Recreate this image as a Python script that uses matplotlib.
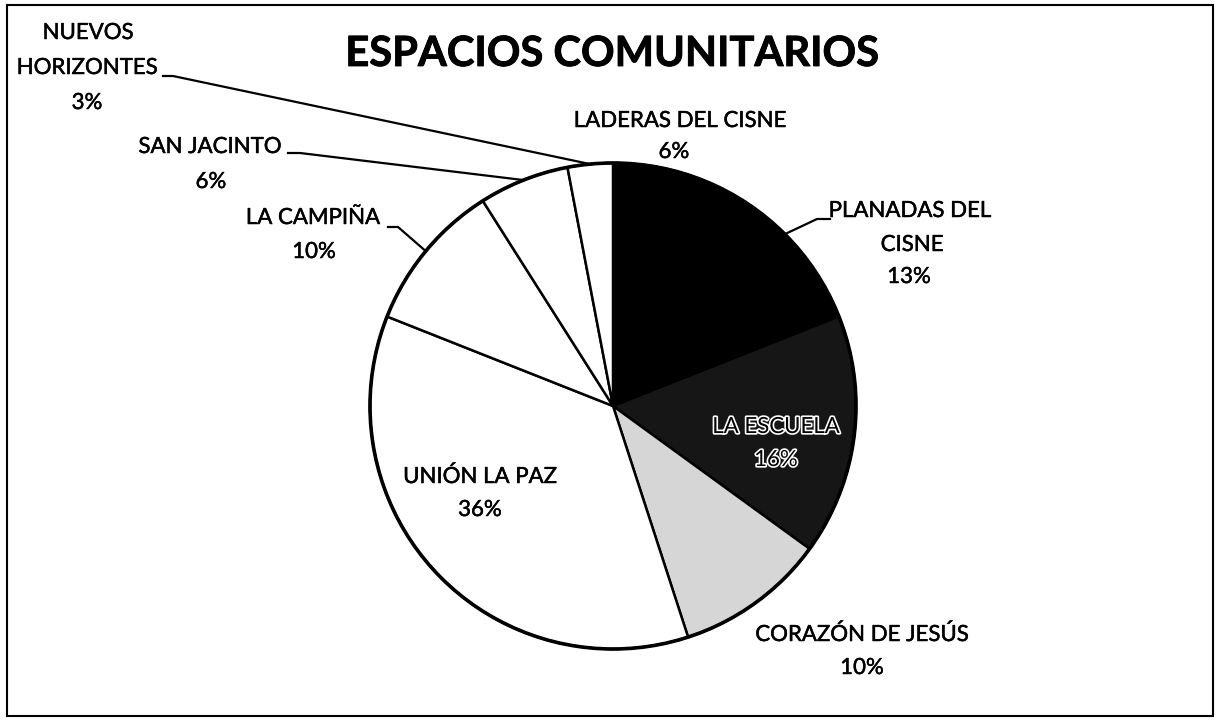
import matplotlib
matplotlib.use("Agg")
import matplotlib.pyplot as plt
import matplotlib.patheffects as pe
from matplotlib.patches import Circle, Rectangle
import numpy as np

plt.rcParams['font.family'] = ['Lato', 'DejaVu Sans']

# ---- data (clockwise from 12 o'clock) ----
categories = ["LADERAS DEL CISNE", "PLANADAS DEL CISNE", "LA ESCUELA", "CORAZÓN DE JESÚS",
              "UNIÓN LA PAZ", "LA CAMPIÑA", "SAN JACINTO", "NUEVOS HORIZONTES"]
values = [6, 13, 16, 10, 36, 10, 6, 3]
pct_labels = ["6%", "13%", "16%", "10%", "36%", "10%", "6%", "3%"]
colors = ["#000000", "#000000", "#161616", "#d6d6d6", "#ffffff", "#ffffff", "#ffffff", "#ffffff"]
title = "ESPACIOS COMUNITARIOS"

W, H = 1220, 721
fig = plt.figure(figsize=(W / 100, H / 100), dpi=100)
ax = fig.add_axes([0, 0, 1, 1])

def Y(y):
    return H - y

cx, cy, R = 613, 406, 243
wedges, _ = ax.pie(values, colors=colors, startangle=90, counterclock=False,
                   center=(cx, Y(cy)), radius=R,
                   wedgeprops=dict(edgecolor="black", linewidth=1.8))
ax.add_patch(Circle((cx, Y(cy)), R, fill=False, edgecolor="black", linewidth=2.6, zorder=5))
ax.set_xlim(0, W)
ax.set_ylim(0, H)
ax.set_aspect("equal")
ax.axis("off")

def edge_point(i):
    w = wedges[i]
    mid = np.deg2rad((w.theta1 + w.theta2) / 2)
    return cx + R * np.cos(mid), Y(cy) + R * np.sin(mid)

fs = 16
bold_fx = [pe.withStroke(linewidth=0.35, foreground="black")]
def lab(x, y, s, fx=bold_fx):
    ax.text(x, Y(y), s, ha="center", va="center", fontsize=fs, color="black", path_effects=fx)

# title
ax.text(612, Y(54), title, ha="center", va="center", fontsize=30, fontweight="bold",
        path_effects=[pe.withStroke(linewidth=0.6, foreground="black")])

# label layout: (line texts, x centers, y centers)
label_layout = {
    0: ([categories[0], pct_labels[0]], [680, 674], [121, 152]),
    1: (["PLANADAS DEL", "CISNE", pct_labels[1]], [910, 912, 909], [211, 245, 277]),
    2: ([categories[2], pct_labels[2]], [776, 776], [427, 460]),
    3: ([categories[3], pct_labels[3]], [862, 862], [635, 668]),
    4: ([categories[4], pct_labels[4]], [480, 480], [477, 510]),
    5: ([categories[5], pct_labels[5]], [313, 314], [218, 252]),
    6: ([categories[6], pct_labels[6]], [210, 211], [147, 182]),
    7: (["NUEVOS", "HORIZONTES", pct_labels[7]], [88, 87, 87], [33, 68, 103]),
}
outline_fx = [pe.withStroke(linewidth=2.4, foreground="white")]
for i, (lines, xs, ys) in label_layout.items():
    for s, x, y in zip(lines, xs, ys):
        lab(x, y, s, fx=outline_fx if i == 2 else bold_fx)

# leader lines: (text anchor start, elbow)
leaders = {
    7: ((163, 76), (173, 76)),
    6: ((288, 153), (300, 153)),
    5: ((388, 227), (398, 227)),
    1: ((830, 219), (817, 219)),
}
for i, (p0, p1) in leaders.items():
    ex, ey = edge_point(i)
    ax.plot([p0[0], p1[0], ex], [Y(p0[1]), Y(p1[1]), ey], color="black", lw=1.6, zorder=6,
            solid_joinstyle="round")

# outer frame
ax.add_patch(Rectangle((7, Y(716)), 1206, 711, fill=False, edgecolor="black", linewidth=1.5))

fig.savefig("out.png", dpi=100)
